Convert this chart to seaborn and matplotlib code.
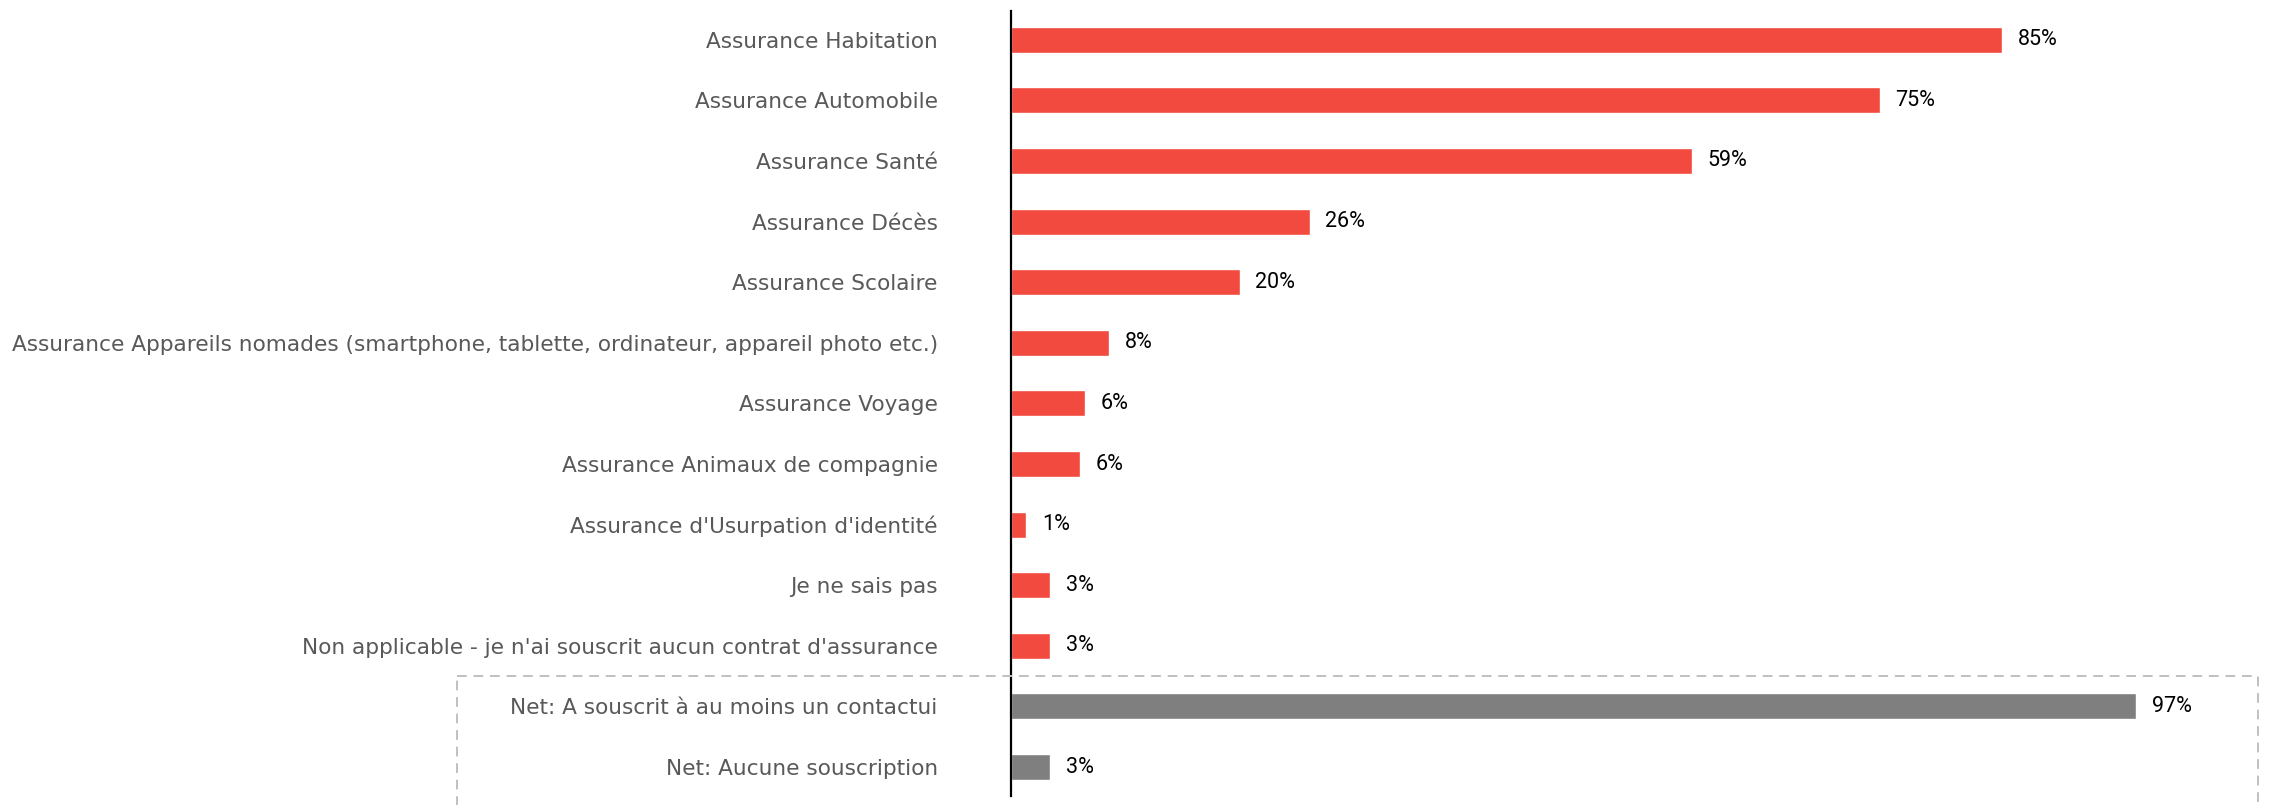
import pandas as pd
import seaborn as sns
import matplotlib.pyplot as plt
from matplotlib.patches import Rectangle
import matplotlib.transforms as mtransforms

# données
categories = [
    "Assurance Habitation",
    "Assurance Automobile",
    "Assurance Santé",
    "Assurance Décès",
    "Assurance Scolaire",
    "Assurance Appareils nomades (smartphone, tablette, ordinateur, appareil photo etc.)",
    "Assurance Voyage",
    "Assurance Animaux de compagnie",
    "Assurance d'Usurpation d'identité",
    "Je ne sais pas",
    "Non applicable - je n'ai souscrit aucun contrat d'assurance",
    "Net: A souscrit à au moins un contactui",
    "Net: Aucune souscription",
]
# longueur des barres (estimée) et étiquette affichée (arrondie)
values = [85.0, 74.5, 58.4, 25.6, 19.6, 8.4, 6.35, 5.9, 1.3, 3.35, 3.35, 96.5, 3.35]
pct_labels = ["85%", "75%", "59%", "26%", "20%", "8%", "6%", "6%", "1%", "3%", "3%", "97%", "3%"]
groups = ["detail"] * 11 + ["net"] * 2

df = pd.DataFrame({"label": categories, "value": values, "group": groups})

sns.set_style("white")
plt.rcParams['font.family'] = ['DejaVu Sans']

fig = plt.figure(figsize=(22.69, 8.05), dpi=100)
ax = fig.add_axes([0.4457, 0.011, 0.5543, 0.975])

sns.barplot(data=df, x="value", y="label", hue="group",
            palette={"detail": "#F24A3E", "net": "#7F7F7F"}, saturation=1,
            width=0.43, dodge=False, legend=False, ax=ax)

for p, lab in zip(ax.patches, pct_labels):
    ax.text(p.get_width() + 1.35, p.get_y() + p.get_height() / 2, lab,
            va="center", ha="left", fontsize=15.5, color="black",
            family=['Roboto', 'DejaVu Sans'])

ax.set_xlim(0, 107.9)
ax.set_ylim(12.48, -0.47)
ax.set_xlabel("")
ax.set_ylabel("")
ax.set_xticks([])
ax.tick_params(axis="y", length=0, pad=53, labelsize=15.6, labelcolor="#595959")
sns.despine(ax=ax, left=False, bottom=True)
ax.spines["left"].set_color("black")
ax.spines["left"].set_linewidth(1.6)

# cadre pointillé autour des lignes "Net"
trans = mtransforms.blended_transform_factory(fig.transFigure, ax.transData)
box = Rectangle((457 / 2269, 10.5), (2258 - 457) / 2269, 3.0, transform=trans,
                fill=False, edgecolor="#C0C0C0", linestyle=(0, (5, 3.5)),
                linewidth=1.4, clip_on=False)
fig.add_artist(box)

fig.savefig("out.png", dpi=100)
